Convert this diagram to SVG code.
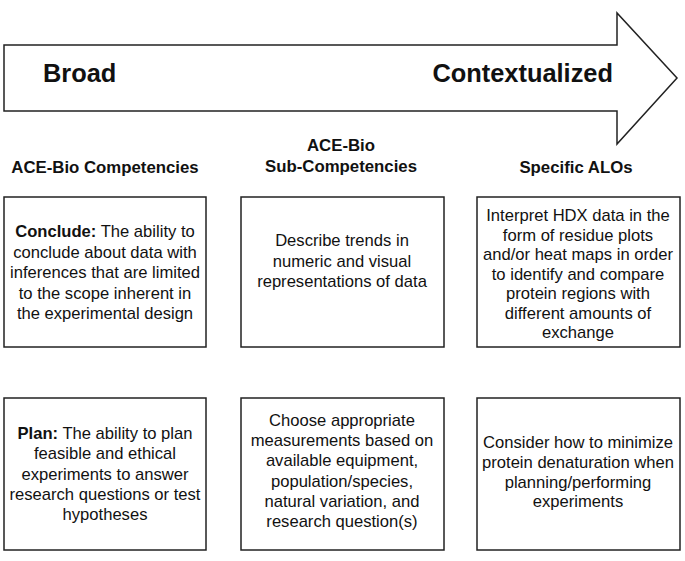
<svg xmlns="http://www.w3.org/2000/svg" width="685" height="561" viewBox="0 0 685 561">
<style>
.t{font-family:"Liberation Sans",Arial,sans-serif;font-size:16.6px;fill:#111;text-anchor:middle}
.h{font-family:"Liberation Sans",Arial,sans-serif;font-size:16.8px;font-weight:bold;fill:#111;text-anchor:middle}
.big{font-family:"Liberation Sans",Arial,sans-serif;font-size:25.4px;font-weight:bold;fill:#111}
.box{fill:#fff;stroke:#222;stroke-width:1.5}
.b{font-weight:bold}
</style>
<rect width="685" height="561" fill="#fff"/>
<g id="arrow">
<path d="M4,45 L617,45 L617,13 L677,78 L617,144 L617,111 L4,111 Z" fill="#fff" stroke="#222" stroke-width="1.5"/>
<text class="big" x="43" y="82">Broad</text>
<text class="big" x="613" y="82" text-anchor="end">Contextualized</text>
</g>
<g id="headers">
<text class="h" x="105" y="173">ACE-Bio Competencies</text>
<text class="h" x="341" y="151">ACE-Bio</text>
<text class="h" x="341" y="172">Sub-Competencies</text>
<text class="h" x="576" y="173">Specific ALOs</text>
</g>
<g id="conclude">
<rect class="box" x="4" y="197" width="202" height="150"/>
<text class="t" x="105" y="237"><tspan class="b">Conclude:</tspan> The ability to<tspan x="105" dy="20.5">conclude about data with</tspan><tspan x="105" dy="20.5">inferences that are limited</tspan><tspan x="105" dy="20.5">to the scope inherent in</tspan><tspan x="105" dy="20.5">the experimental design</tspan></text>
</g>
<g id="describe">
<rect class="box" x="241" y="197" width="203" height="150"/>
<text class="t" x="342" y="246">Describe trends in<tspan x="342" dy="20.5">numeric and visual</tspan><tspan x="342" dy="20.5">representations of data</tspan></text>
</g>
<g id="interpret">
<rect class="box" x="477" y="197" width="203" height="150"/>
<text class="t" x="578" y="221">Interpret HDX data in the<tspan x="578" dy="19.5">form of residue plots</tspan><tspan x="578" dy="19.5">and/or heat maps in order</tspan><tspan x="578" dy="19.5">to identify and compare</tspan><tspan x="578" dy="19.5">protein regions with</tspan><tspan x="578" dy="19.5">different amounts of</tspan><tspan x="578" dy="19.5">exchange</tspan></text>
</g>
<g id="plan">
<rect class="box" x="4" y="398" width="202" height="152"/>
<text class="t" x="105" y="439"><tspan class="b">Plan:</tspan> The ability to plan<tspan x="105" dy="20.3">feasible and ethical</tspan><tspan x="105" dy="20.3">experiments to answer</tspan><tspan x="105" dy="20.3">research questions or test</tspan><tspan x="105" dy="20.3">hypotheses</tspan></text>
</g>
<g id="choose">
<rect class="box" x="241" y="398" width="203" height="152"/>
<text class="t" x="342" y="426">Choose appropriate<tspan x="342" dy="20.2">measurements based on</tspan><tspan x="342" dy="20.2">available equipment,</tspan><tspan x="342" dy="20.2">population/species,</tspan><tspan x="342" dy="20.2">natural variation, and</tspan><tspan x="342" dy="20.2">research question(s)</tspan></text>
</g>
<g id="consider">
<rect class="box" x="477" y="398" width="203" height="152"/>
<text class="t" x="578" y="448">Consider how to minimize<tspan x="578" dy="19.8">protein denaturation when</tspan><tspan x="578" dy="19.8">planning/performing</tspan><tspan x="578" dy="19.8">experiments</tspan></text>
</g>
<g id="connectors"></g>
</svg>
